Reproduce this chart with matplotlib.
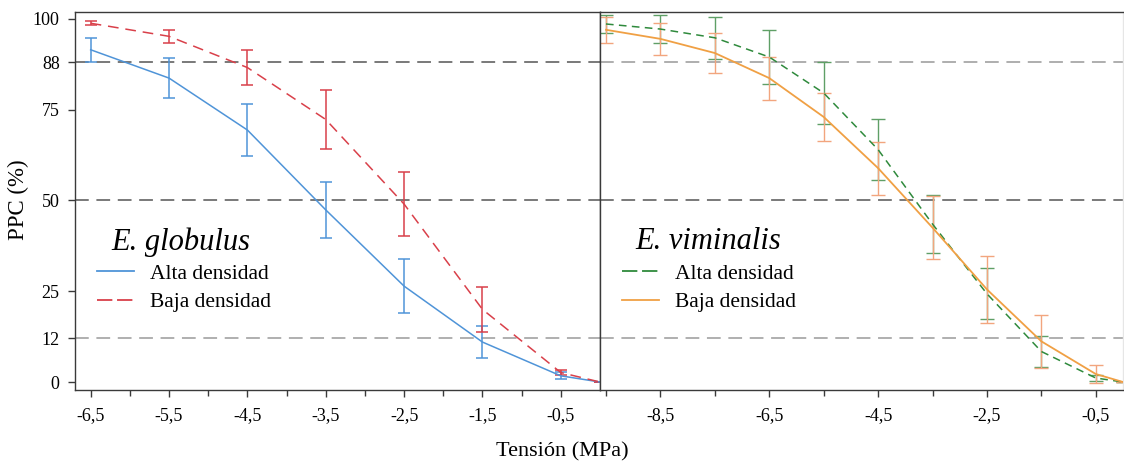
import matplotlib
matplotlib.use("Agg")
import matplotlib.pyplot as plt
from matplotlib.lines import Line2D
from matplotlib.ticker import FixedLocator, FuncFormatter

plt.rcParams['font.family'] = ['Liberation Serif', 'DejaVu Serif']

# E. globulus: water potential (MPa) and PPC (%) with error half-widths
glob_x = [-6.5, -5.5, -4.5, -3.5, -2.5, -1.5, -0.5, 0.0]
glob_alta = [91.5, 83.7, 69.4, 47.4, 26.4, 11.0, 1.7, 0.0]
glob_alta_err = [3.3, 5.5, 7.2, 7.7, 7.5, 4.4, 1.0, 0.0]
glob_baja = [98.8, 95.2, 86.6, 72.3, 49.0, 20.0, 2.6, 0.0]
glob_baja_err = [0.6, 1.8, 4.8, 8.1, 8.8, 6.2, 0.7, 0.0]

# E. viminalis
vim_x = [-9.5, -8.5, -7.5, -6.5, -5.5, -4.5, -3.5, -2.5, -1.5, -0.5, 0.0]
vim_alta = [98.6, 97.2, 94.8, 89.5, 79.6, 64.0, 43.5, 24.3, 8.4, 1.1, 0.0]
vim_alta_err = [2.4, 3.8, 5.8, 7.5, 8.5, 8.5, 8.0, 7.0, 4.3, 0.9, 0.0]
vim_baja = [97.0, 94.5, 90.6, 83.7, 73.0, 58.9, 42.5, 25.5, 11.2, 2.2, 0.0]
vim_baja_err = [3.6, 4.5, 5.4, 5.9, 6.5, 7.3, 8.6, 9.3, 7.3, 2.4, 0.0]

yticks = [0, 12, 25, 50, 75, 88, 100]
glob_major = [-6.5, -5.5, -4.5, -3.5, -2.5, -1.5, -0.5]
glob_minor = [-6, -5, -4, -3, -2, -1]
vim_major = [-8.5, -6.5, -4.5, -2.5, -0.5]
vim_minor = [-9.5, -7.5, -5.5, -3.5, -1.5]

BLUE = '#4f94d8'
RED = '#d9404a'
GREEN = '#2f8a3c'
GREEN_ERR = '#5f9f66'
ORANGE = '#f0a044'
ORANGE_ERR = '#f2a57e'
SPINE = '#3a3a3a'

fig = plt.figure(figsize=(11.24, 4.66), dpi=100)
W, H = 1124, 466
ax1 = fig.add_axes([75 / W, 1 - 390 / H, 525 / W, 378 / H])
ax2 = fig.add_axes([600 / W, 1 - 390 / H, 523 / W, 378 / H])

comma = FuncFormatter(lambda v, p: f"{v:.1f}".replace('.', ','))


def style(ax, xlim, major, minor, show_y):
    ax.set_xlim(*xlim)
    ax.set_ylim(-2.2, 101.9)
    ax.xaxis.set_major_locator(FixedLocator(major))
    ax.xaxis.set_minor_locator(FixedLocator(minor))
    ax.xaxis.set_major_formatter(comma)
    ax.set_yticks(yticks)
    ax.tick_params(axis='x', which='major', direction='out', length=5,
                   width=1, color=SPINE, labelsize=13, pad=7)
    ax.tick_params(axis='x', which='minor', direction='out', length=4,
                   width=1, color=SPINE)
    if show_y:
        ax.tick_params(axis='y', direction='out', length=5, width=1,
                       color=SPINE, labelsize=13, pad=6)
    else:
        ax.tick_params(axis='y', length=0, labelleft=False)
    for s in ax.spines.values():
        s.set_color(SPINE)
        s.set_linewidth(1.0)
    # reference levels
    ax.axhline(88, color='#555555' if show_y else '#999999', lw=1.1,
               dashes=(9, 5), zorder=1)
    ax.axhline(50, color='#555555', lw=1.1, dashes=(9, 5), zorder=1)
    ax.axhline(12, color='#9a9a9a', lw=1.1, dashes=(9, 5), zorder=1)


style(ax1, (-6.7, 0.0), glob_major, glob_minor, True)
style(ax2, (-9.61, 0.0), vim_major, vim_minor, False)
ax2.spines['right'].set_color('#e6e6e6')

# E. globulus curves
ax1.errorbar(glob_x, glob_alta, yerr=glob_alta_err, color=BLUE, lw=1.1,
             elinewidth=1.1, capsize=4.5, capthick=1.1, zorder=3)
ax1.errorbar(glob_x, glob_baja, yerr=glob_baja_err, color=RED, lw=1.1,
             elinewidth=1.1, capsize=4.5, capthick=1.1, zorder=3,
             dashes=(7, 4.5))

# E. viminalis curves
ax2.errorbar(vim_x, vim_alta, yerr=vim_alta_err, fmt='none', ecolor=GREEN_ERR,
             elinewidth=1.0, capsize=5, capthick=1.0, zorder=2)
ax2.plot(vim_x, vim_alta, color=GREEN, lw=1.1, dashes=(5, 3.5), zorder=3)
ax2.errorbar(vim_x, vim_baja, yerr=vim_baja_err, fmt='none', ecolor=ORANGE_ERR,
             elinewidth=1.0, capsize=5, capthick=1.0, zorder=2)
ax2.plot(vim_x, vim_baja, color=ORANGE, lw=1.3, zorder=3)

# species labels and legends
ax1.text(0.070, 0.392, 'E. globulus', transform=ax1.transAxes,
         fontsize=22, fontstyle='italic', va='center', ha='left')
ax2.text(0.068, 0.392, 'E. viminalis', transform=ax2.transAxes,
         fontsize=22, fontstyle='italic', va='center', ha='left')

h1 = [Line2D([], [], color=BLUE, lw=1.3),
      Line2D([], [], color=RED, lw=1.3, dashes=(8.5, 2.6))]
h2 = [Line2D([], [], color=GREEN, lw=1.3, dashes=(8.5, 2.6)),
      Line2D([], [], color=ORANGE, lw=1.3)]
labels = ['Alta densidad', 'Baja densidad']
for ax, h in ((ax1, h1), (ax2, h2)):
    ax.legend(h, labels, loc='upper left', bbox_to_anchor=(0.033, 0.345),
              frameon=False, fontsize=15.5, handlelength=1.75,
              handletextpad=0.75, labelspacing=0.38, borderaxespad=0,
              borderpad=0.2)

fig.text(18 / W, 1 - 200 / H, 'PPC (%)', rotation=90, fontsize=16.5,
         ha='center', va='center')
fig.text(562 / W, 1 - 452 / H, 'Tensión (MPa)', fontsize=16,
         ha='center', va='center')

fig.savefig('out.png', dpi=100)
